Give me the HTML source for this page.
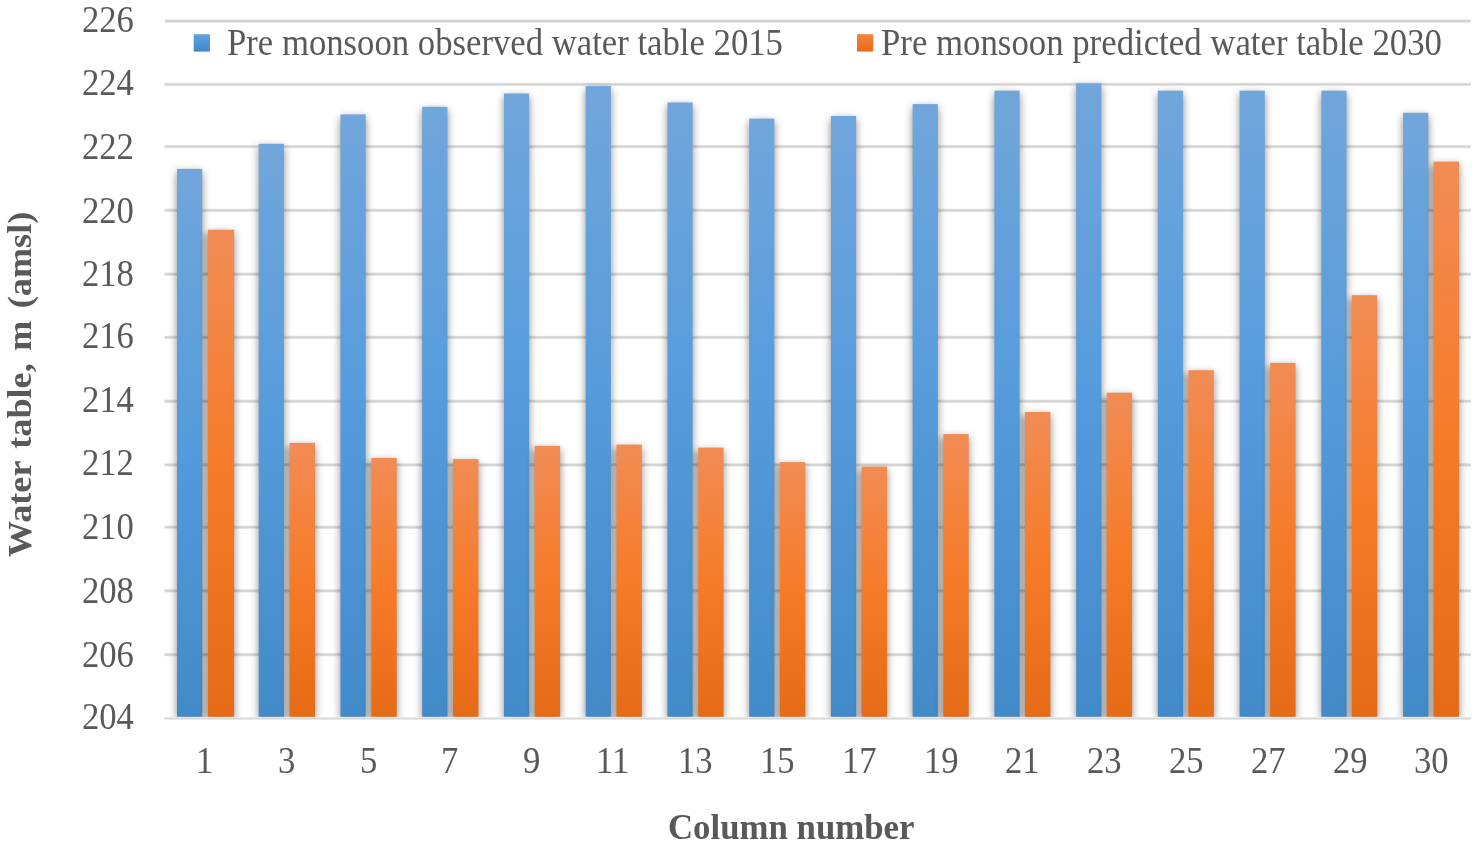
<!DOCTYPE html>
<html lang="en"><head><meta charset="utf-8"><title>Water table chart</title>
<style>
html,body{margin:0;padding:0;background:#fff;}
body{width:1477px;height:847px;position:relative;overflow:hidden;font-family:"Liberation Serif",serif;color:#595959;}
svg{position:absolute;left:0;top:0;}
.t{position:absolute;white-space:nowrap;font-size:38px;line-height:44px;height:44px;transform-origin:0 0;transform:scaleX(.911);}
.bold{font-weight:bold;}
</style></head><body>
<svg width="1477" height="847" viewBox="0 0 1477 847">
<defs>
<linearGradient id="gb" x1="0" y1="0" x2="0" y2="1"><stop offset="0" stop-color="#71a6db"/><stop offset=".5" stop-color="#559bdb"/><stop offset="1" stop-color="#438ac9"/></linearGradient>
<linearGradient id="go" x1="0" y1="0" x2="0" y2="1"><stop offset="0" stop-color="#f18c55"/><stop offset=".5" stop-color="#f67b28"/><stop offset="1" stop-color="#e56b17"/></linearGradient>
<linearGradient id="gg" x1="0" y1="0" x2="0" y2="1"><stop offset="0" stop-color="#d4d4d4" stop-opacity="0"/><stop offset=".36" stop-color="#d4d4d4"/><stop offset=".64" stop-color="#d4d4d4"/><stop offset="1" stop-color="#d4d4d4" stop-opacity="0"/></linearGradient>
<linearGradient id="lb" x1="0" y1="0" x2="0" y2="1"><stop offset="0" stop-color="#64a1de"/><stop offset="1" stop-color="#3f88cd"/></linearGradient>
<linearGradient id="lo" x1="0" y1="0" x2="0" y2="1"><stop offset="0" stop-color="#f4833c"/><stop offset="1" stop-color="#e86c1a"/></linearGradient>
<filter id="sh" filterUnits="userSpaceOnUse" x="0" y="0" width="1477" height="847"><feGaussianBlur in="SourceAlpha" stdDeviation="4.0"/><feOffset dy="3.0"/><feComponentTransfer><feFuncA type="linear" slope="0.46"/></feComponentTransfer></filter>
<filter id="vb" filterUnits="userSpaceOnUse" x="0" y="0" width="1477" height="847"><feGaussianBlur stdDeviation="0 2.5"/></filter>
<clipPath id="cp"><rect x="0" y="0" width="1477" height="717.0"/></clipPath>
</defs>
<g>
<rect x="164.5" y="18.90" width="1306.3" height="4.4" fill="url(#gg)"/>
<rect x="164.5" y="82.20" width="1306.3" height="4.4" fill="url(#gg)"/>
<rect x="164.5" y="144.40" width="1306.3" height="4.4" fill="url(#gg)"/>
<rect x="164.5" y="208.20" width="1306.3" height="4.4" fill="url(#gg)"/>
<rect x="164.5" y="272.00" width="1306.3" height="4.4" fill="url(#gg)"/>
<rect x="164.5" y="335.20" width="1306.3" height="4.4" fill="url(#gg)"/>
<rect x="164.5" y="399.10" width="1306.3" height="4.4" fill="url(#gg)"/>
<rect x="164.5" y="462.60" width="1306.3" height="4.4" fill="url(#gg)"/>
<rect x="164.5" y="525.10" width="1306.3" height="4.4" fill="url(#gg)"/>
<rect x="164.5" y="588.60" width="1306.3" height="4.4" fill="url(#gg)"/>
<rect x="164.5" y="652.40" width="1306.3" height="4.4" fill="url(#gg)"/>
</g>
<g clip-path="url(#cp)"><g fill="#000" fill-opacity=".1" filter="url(#vb)"><rect x="201.90" y="233.70" width="6.30" height="493.00"/><rect x="283.64" y="446.90" width="6.30" height="279.80"/><rect x="365.38" y="461.90" width="6.30" height="264.80"/><rect x="447.12" y="463.10" width="6.30" height="263.60"/><rect x="528.86" y="449.90" width="6.30" height="276.80"/><rect x="610.60" y="448.60" width="6.30" height="278.10"/><rect x="692.34" y="451.60" width="6.30" height="275.10"/><rect x="774.08" y="466.10" width="6.30" height="260.60"/><rect x="855.82" y="470.60" width="6.30" height="256.10"/><rect x="937.56" y="438.10" width="6.30" height="288.60"/><rect x="1019.30" y="416.00" width="6.30" height="310.70"/><rect x="1101.04" y="396.70" width="6.30" height="330.00"/><rect x="1182.78" y="374.20" width="6.30" height="352.50"/><rect x="1264.52" y="366.90" width="6.30" height="359.80"/><rect x="1346.26" y="299.20" width="6.30" height="427.50"/><rect x="1428.00" y="165.60" width="6.30" height="561.10"/></g></g>
<g clip-path="url(#cp)"><g filter="url(#sh)"><rect x="177.00" y="168.90" width="25.20" height="547.80"/><rect x="258.74" y="143.80" width="25.20" height="572.90"/><rect x="340.48" y="114.40" width="25.20" height="602.30"/><rect x="422.22" y="106.80" width="25.20" height="609.90"/><rect x="503.96" y="93.50" width="25.20" height="623.20"/><rect x="585.70" y="86.10" width="25.20" height="630.60"/><rect x="667.44" y="102.50" width="25.20" height="614.20"/><rect x="749.18" y="118.60" width="25.20" height="598.10"/><rect x="830.92" y="116.00" width="25.20" height="600.70"/><rect x="912.66" y="104.10" width="25.20" height="612.60"/><rect x="994.40" y="90.70" width="25.20" height="626.00"/><rect x="1076.14" y="83.40" width="25.20" height="633.30"/><rect x="1157.88" y="90.70" width="25.20" height="626.00"/><rect x="1239.62" y="90.70" width="25.20" height="626.00"/><rect x="1321.36" y="90.70" width="25.20" height="626.00"/><rect x="1403.10" y="112.80" width="25.20" height="603.90"/></g><g fill="url(#gb)"><rect x="177.00" y="168.90" width="25.20" height="547.80"/><rect x="258.74" y="143.80" width="25.20" height="572.90"/><rect x="340.48" y="114.40" width="25.20" height="602.30"/><rect x="422.22" y="106.80" width="25.20" height="609.90"/><rect x="503.96" y="93.50" width="25.20" height="623.20"/><rect x="585.70" y="86.10" width="25.20" height="630.60"/><rect x="667.44" y="102.50" width="25.20" height="614.20"/><rect x="749.18" y="118.60" width="25.20" height="598.10"/><rect x="830.92" y="116.00" width="25.20" height="600.70"/><rect x="912.66" y="104.10" width="25.20" height="612.60"/><rect x="994.40" y="90.70" width="25.20" height="626.00"/><rect x="1076.14" y="83.40" width="25.20" height="633.30"/><rect x="1157.88" y="90.70" width="25.20" height="626.00"/><rect x="1239.62" y="90.70" width="25.20" height="626.00"/><rect x="1321.36" y="90.70" width="25.20" height="626.00"/><rect x="1403.10" y="112.80" width="25.20" height="603.90"/></g></g>
<g clip-path="url(#cp)"><g filter="url(#sh)"><rect x="207.90" y="229.70" width="26.20" height="487.00"/><rect x="289.61" y="442.90" width="25.40" height="273.80"/><rect x="371.32" y="457.90" width="25.40" height="258.80"/><rect x="453.03" y="459.10" width="25.40" height="257.60"/><rect x="534.74" y="445.90" width="25.40" height="270.80"/><rect x="616.45" y="444.60" width="25.40" height="272.10"/><rect x="698.16" y="447.60" width="25.40" height="269.10"/><rect x="779.87" y="462.10" width="25.40" height="254.60"/><rect x="861.58" y="466.60" width="25.40" height="250.10"/><rect x="943.29" y="434.10" width="25.40" height="282.60"/><rect x="1025.00" y="412.00" width="25.40" height="304.70"/><rect x="1106.71" y="392.70" width="25.40" height="324.00"/><rect x="1188.42" y="370.20" width="25.40" height="346.50"/><rect x="1270.13" y="362.90" width="25.40" height="353.80"/><rect x="1351.84" y="295.20" width="25.40" height="421.50"/><rect x="1433.55" y="161.60" width="25.40" height="555.10"/></g><g fill="url(#go)"><rect x="207.90" y="229.70" width="26.20" height="487.00"/><rect x="289.61" y="442.90" width="25.40" height="273.80"/><rect x="371.32" y="457.90" width="25.40" height="258.80"/><rect x="453.03" y="459.10" width="25.40" height="257.60"/><rect x="534.74" y="445.90" width="25.40" height="270.80"/><rect x="616.45" y="444.60" width="25.40" height="272.10"/><rect x="698.16" y="447.60" width="25.40" height="269.10"/><rect x="779.87" y="462.10" width="25.40" height="254.60"/><rect x="861.58" y="466.60" width="25.40" height="250.10"/><rect x="943.29" y="434.10" width="25.40" height="282.60"/><rect x="1025.00" y="412.00" width="25.40" height="304.70"/><rect x="1106.71" y="392.70" width="25.40" height="324.00"/><rect x="1188.42" y="370.20" width="25.40" height="346.50"/><rect x="1270.13" y="362.90" width="25.40" height="353.80"/><rect x="1351.84" y="295.20" width="25.40" height="421.50"/><rect x="1433.55" y="161.60" width="25.40" height="555.10"/></g></g>
<rect x="164.5" y="717.45" width="1306.3" height="2.1" fill="#d8d8d8"/>
<rect x="193.7" y="34.2" width="16.3" height="17.4" fill="url(#lb)"/>
<rect x="857" y="34.2" width="16.2" height="17.4" fill="url(#lo)"/>
</svg>
<div class="t" style="left:82.3px;top:-3.3px;">226</div>
<div class="t" style="left:82.3px;top:60.2px;">224</div>
<div class="t" style="left:82.3px;top:124.0px;">222</div>
<div class="t" style="left:82.3px;top:187.5px;">220</div>
<div class="t" style="left:82.3px;top:251.2px;">218</div>
<div class="t" style="left:82.3px;top:313.2px;">216</div>
<div class="t" style="left:82.3px;top:377.0px;">214</div>
<div class="t" style="left:82.3px;top:440.2px;">212</div>
<div class="t" style="left:82.3px;top:504.3px;">210</div>
<div class="t" style="left:82.3px;top:567.9px;">208</div>
<div class="t" style="left:82.3px;top:631.6px;">206</div>
<div class="t" style="left:82.3px;top:693.6px;">204</div>
<div class="t" style="left:195.9px;top:738.2px;">1</div>
<div class="t" style="left:277.7px;top:738.2px;">3</div>
<div class="t" style="left:359.5px;top:738.2px;">5</div>
<div class="t" style="left:441.3px;top:738.2px;">7</div>
<div class="t" style="left:523.1px;top:738.2px;">9</div>
<div class="t" style="left:596.3px;top:738.2px;">11</div>
<div class="t" style="left:678.1px;top:738.2px;">13</div>
<div class="t" style="left:759.9px;top:738.2px;">15</div>
<div class="t" style="left:841.7px;top:738.2px;">17</div>
<div class="t" style="left:923.5px;top:738.2px;">19</div>
<div class="t" style="left:1005.3px;top:738.2px;">21</div>
<div class="t" style="left:1087.1px;top:738.2px;">23</div>
<div class="t" style="left:1168.9px;top:738.2px;">25</div>
<div class="t" style="left:1250.7px;top:738.2px;">27</div>
<div class="t" style="left:1332.5px;top:738.2px;">29</div>
<div class="t" style="left:1414.3px;top:738.2px;">30</div>
<div class="t" style="left:226.6px;top:19.7px;transform:scaleX(.913)">Pre monsoon observed water table 2015</div>
<div class="t" style="left:881.4px;top:19.7px;transform:scaleX(.915)">Pre monsoon predicted water table 2030</div>
<div class="t bold" style="left:667.8px;top:805.3px;font-size:36.6px;transform:scaleX(.951)">Column number</div>
<div class="t bold" style="left:0px;top:557px;font-size:33.7px;line-height:40px;height:40px;word-spacing:3.2px;transform:rotate(-90deg) scaleX(1.074);">Water table, m (amsl)</div>
</body></html>
